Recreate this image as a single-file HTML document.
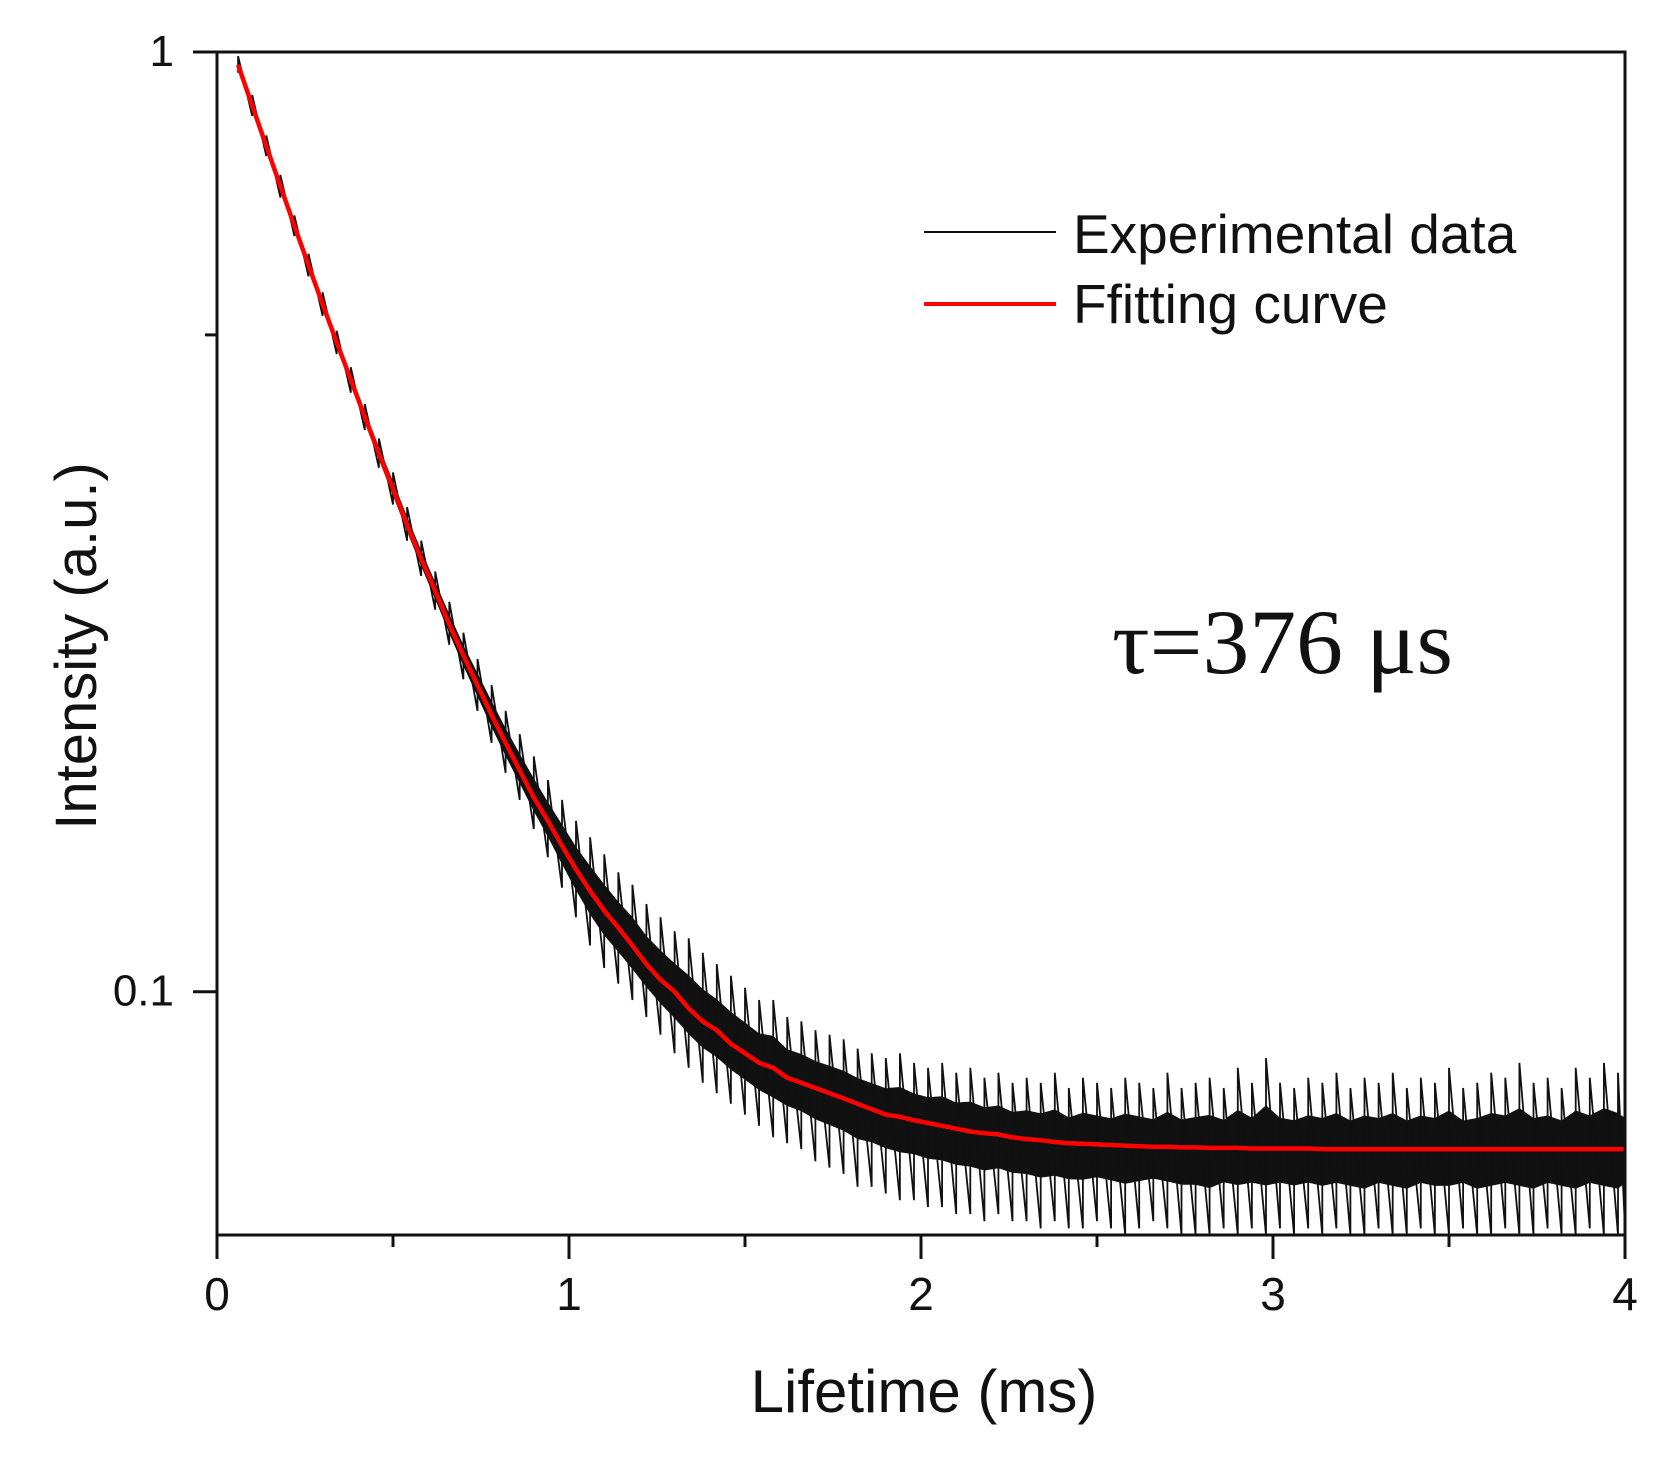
<!DOCTYPE html>
<html><head><meta charset="utf-8"><style>
html,body{margin:0;padding:0;background:#fff;}
svg{display:block;font-family:"Liberation Sans",Arial,sans-serif;}
</style></head><body>
<svg id="chart" width="1666" height="1460" viewBox="0 0 1666 1460" xmlns="http://www.w3.org/2000/svg">
<rect x="0" y="0" width="1666" height="1460" fill="#fff"/>
<defs><clipPath id="plotclip"><rect x="217" y="52" width="1408" height="1183"/></clipPath></defs>
<g id="marks" clip-path="url(#plotclip)"></g>
<g id="axes"></g>
<g>
<line x1="924" y1="232" x2="1056" y2="232" stroke="#111" stroke-width="2"/>
<text x="1073" y="253" font-size="55" fill="#111">Experimental data</text>
<line x1="924" y1="304" x2="1056" y2="304" stroke="#f00" stroke-width="4"/>
<text x="1073" y="323" font-size="55" fill="#111">Ffitting curve</text>
</g>
<text x="1112" y="673" font-size="92" font-family="'Liberation Serif',serif" fill="#111" textLength="341" lengthAdjust="spacingAndGlyphs">τ=376 μs</text>
<text x="924" y="1412" font-size="60" text-anchor="middle" fill="#111">Lifetime (ms)</text>
<text transform="translate(96,646) rotate(-90)" font-size="58" text-anchor="middle" fill="#111">Intensity (a.u.)</text>
</svg>
<script>
const times=[0.06,0.10,0.14,0.18,0.22,0.26,0.30,0.34,0.38,0.42,0.46,0.50,0.54,0.58,0.62,0.66,0.70,0.74,0.78,0.82,0.86,0.90,0.94,0.98,1.02,1.06,1.10,1.14,1.18,1.22,1.26,1.30,1.34,1.38,1.42,1.46,1.50,1.54,1.58,1.62,1.66,1.70,1.74,1.78,1.82,1.86,1.90,1.94,1.98,2.02,2.06,2.10,2.14,2.18,2.22,2.26,2.30,2.34,2.38,2.42,2.46,2.50,2.54,2.58,2.62,2.66,2.70,2.74,2.78,2.82,2.86,2.90,2.94,2.98,3.02,3.06,3.10,3.14,3.18,3.22,3.26,3.30,3.34,3.38,3.42,3.46,3.50,3.54,3.58,3.62,3.66,3.70,3.74,3.78,3.82,3.86,3.90,3.94,3.98,4.00];
const expHigh=[0.99,0.90,0.815,0.74,0.67,0.61,0.555,0.505,0.462,0.422,0.388,0.357,0.328,0.302,0.280,0.260,0.241,0.226,0.212,0.199,0.188,0.178,0.168,0.160,0.152,0.146,0.140,0.134,0.130,0.124,0.120,0.116,0.114,0.110,0.107,0.104,0.101,0.098,0.098,0.094,0.093,0.091,0.090,0.089,0.087,0.086,0.085,0.086,0.084,0.083,0.084,0.082,0.083,0.081,0.082,0.080,0.081,0.080,0.082,0.079,0.081,0.080,0.079,0.081,0.080,0.079,0.082,0.079,0.080,0.081,0.079,0.083,0.080,0.085,0.080,0.079,0.081,0.080,0.082,0.079,0.081,0.080,0.082,0.079,0.081,0.080,0.083,0.079,0.080,0.082,0.081,0.084,0.080,0.081,0.079,0.083,0.081,0.084,0.082,0.080];
const expLow=[0.95,0.855,0.775,0.70,0.637,0.577,0.524,0.477,0.434,0.396,0.361,0.330,0.302,0.277,0.255,0.234,0.215,0.199,0.184,0.171,0.160,0.149,0.139,0.129,0.120,0.112,0.106,0.102,0.098,0.094,0.090,0.086,0.083,0.080,0.078,0.076,0.074,0.072,0.070,0.069,0.068,0.066,0.065,0.064,0.062,0.062,0.061,0.060,0.060,0.059,0.059,0.058,0.058,0.057,0.058,0.057,0.057,0.056,0.057,0.056,0.056,0.057,0.056,0.055,0.056,0.057,0.056,0.055,0.055,0.054,0.056,0.055,0.056,0.055,0.056,0.055,0.056,0.055,0.056,0.055,0.054,0.056,0.055,0.054,0.056,0.055,0.055,0.056,0.054,0.055,0.056,0.055,0.054,0.056,0.055,0.054,0.056,0.055,0.054,0.056];
const fitted=[0.969,0.877,0.794,0.720,0.653,0.593,0.539,0.491,0.448,0.409,0.374,0.343,0.314,0.289,0.267,0.246,0.228,0.212,0.197,0.184,0.172,0.161,0.152,0.143,0.135,0.128,0.122,0.117,0.112,0.107,0.103,0.100,0.096,0.093,0.091,0.088,0.086,0.084,0.083,0.081,0.080,0.079,0.078,0.077,0.076,0.075,0.074,0.0736,0.073,0.0725,0.072,0.0715,0.071,0.0707,0.0705,0.070,0.0697,0.0695,0.0692,0.069,0.0689,0.0688,0.0687,0.0686,0.0685,0.0684,0.0684,0.0683,0.0683,0.0682,0.0682,0.0682,0.0681,0.0681,0.0681,0.0681,0.0681,0.068,0.068,0.068,0.068,0.068,0.068,0.068,0.068,0.068,0.068,0.068,0.068,0.068,0.068,0.068,0.068,0.068,0.068,0.068,0.068,0.068,0.068,0.068];
const xTicks=[0,1,2,3,4];
const xTickLabels=["0","1","2","3","4"];
const xMinor=[0.5,1.5,2.5,3.5];
const yTicks=[1,0.1];
const yTickLabels=["1","0.1"];
const yMinor=[0.5];

const NS="http://www.w3.org/2000/svg";
const L=217,R=1625,T=52,B=1235;
const xMin=0,xMax=4,yTop=1,yBot=0.0551;
function X(v){return L+(v-xMin)/(xMax-xMin)*(R-L);}
function Y(v){return T+(Math.log10(yTop)-Math.log10(v))/(Math.log10(yTop)-Math.log10(yBot))*(B-T);}
function mk(tag,attrs,parent){const e=document.createElementNS(NS,tag);for(const k in attrs)e.setAttribute(k,attrs[k]);parent.appendChild(e);return e;}
const marks=document.getElementById('marks'),axes=document.getElementById('axes');
const CORE=0.45;

let band="";
times.forEach((t,i)=>{const v=fitted[i]+(expHigh[i]-fitted[i])*CORE;band+=(i?"L":"M")+X(t).toFixed(1)+","+Y(v).toFixed(1);});
for(let i=times.length-1;i>=0;i--){const v=fitted[i]-(fitted[i]-expLow[i])*CORE;band+="L"+X(times[i]).toFixed(1)+","+Y(v).toFixed(1);}
band+="Z";
const pb=mk('path',{d:band,fill:'#111',stroke:'none'},marks);



let d1="";times.forEach((t,i)=>{const x=X(t).toFixed(1);d1+=(i?"L":"M")+x+","+Math.min(B,Y(expLow[i])).toFixed(1)+"L"+x+","+Y(expHigh[i]).toFixed(1);});
const p1=mk('path',{d:d1,fill:'none',stroke:'#111','stroke-width':1.8},marks);



let d2="";times.forEach((t,i)=>{d2+=(i?"L":"M")+X(t).toFixed(1)+","+Y(fitted[i]).toFixed(1);});
const p2=mk('path',{d:d2,fill:'none',stroke:'#f00','stroke-width':4.5},marks);



const frame=mk('path',{d:`M${L-24},${T}H${R}V${B+24}M${L},${T}V${B+24}M${L},${B}H${R}`,fill:'none',stroke:'#111','stroke-width':3},axes);


xTicks.forEach((v,i)=>{
  const tk=mk('line',{x1:X(v),x2:X(v),y1:B,y2:B+24,stroke:'#111','stroke-width':3},axes);
  
  
  const tx=mk('text',{x:X(v),y:1310,'font-size':46,'text-anchor':'middle',fill:'#111'},axes);
  tx.textContent=xTickLabels[i];
  
  
});
xMinor.forEach(v=>{
  const tk=mk('line',{x1:X(v),x2:X(v),y1:B,y2:B+12,stroke:'#111','stroke-width':3},axes);
  
  
});
yTicks.forEach((v,i)=>{
  const tk=mk('line',{x1:L-24,x2:L,y1:Y(v),y2:Y(v),stroke:'#111','stroke-width':3},axes);
  
  
  const tx=mk('text',{x:174,y:Y(v)+14,'font-size':44,'text-anchor':'end',fill:'#111'},axes);
  tx.textContent=yTickLabels[i];
  
  
});
yMinor.forEach(v=>{
  const tk=mk('line',{x1:L-12,x2:L,y1:Y(v),y2:Y(v),stroke:'#111','stroke-width':3},axes);
  
  
});
</script>
</body></html>
